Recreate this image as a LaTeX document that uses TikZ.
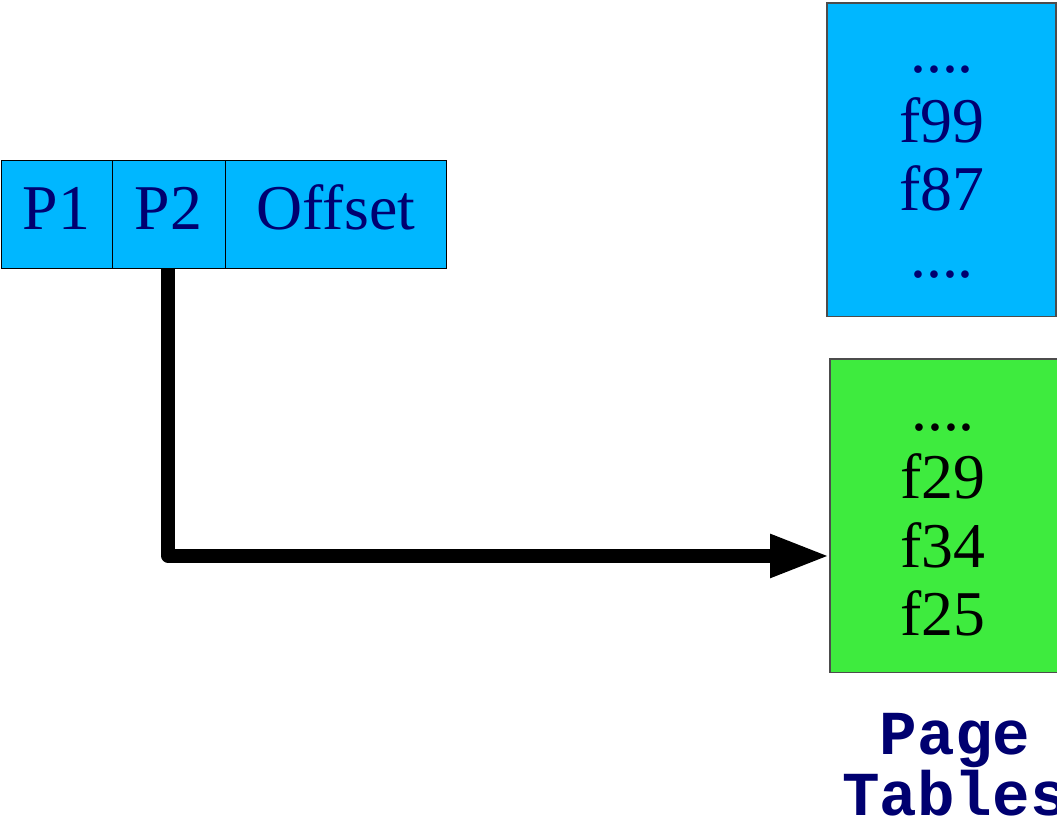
\documentclass[tikz,border=0pt]{standalone}
\usepackage{fontspec}
\setmainfont{Liberation Serif}
\newfontfamily\labelfont{Liberation Mono}
\usetikzlibrary{positioning,arrows.meta}

\definecolor{tableblue}{RGB}{0,183,255}
\definecolor{tablegreen}{RGB}{62,235,62}
\definecolor{entrynavy}{RGB}{0,0,112}
\newcommand{\fourdots}{....}

\begin{document}
\begin{tikzpicture}[x=0.02cm, y=-0.02cm,
    field/.style={draw, line width=0.5pt, fill=tableblue, text=entrynavy,
        minimum height=2.16cm, inner sep=0pt, outer sep=0pt, anchor=north west,
        text height=0.84cm, text depth=0.2cm,
        font=\fontsize{36.3}{38.5}\selectfont},
    ptable/.style={draw=black!70, line width=0.6pt, anchor=north west,
        minimum height=6.28cm, inner sep=0pt, outer sep=0pt},
    entry/.style={anchor=base, inner sep=0pt, font=\fontsize{36.3}{38.5}\selectfont}]
    \useasboundingbox (0,0) rectangle (1057,819);

    % Address split into its three fields
    \node[field, minimum width=2.22cm] (p1) at (1,160) {P1};
    \node[field, minimum width=2.26cm, right=0pt of p1] (p2) {P2};
    \node[field, minimum width=4.44cm, right=0pt of p2] (offset) {Offset};

    % The two second level tables
    \node[ptable, fill=tableblue, minimum width=4.58cm] (upper) at (827,3) {};
    \node[ptable, fill=tablegreen, minimum width=4.8cm] (lower) at (830,359) {};

    % Their entries
    \foreach \e/\yb in {\fourdots/72, f99/142, f87/210, \fourdots/277}
        \node[entry, text=entrynavy] at (942,\yb) {\e};
    \foreach \e/\yb in {\fourdots/430, f29/498, f34/567, f25/635}
        \node[entry, text=black] at (943,\yb) {\e};

    \node[anchor=north, inner sep=0pt, align=center, text=entrynavy,
        font=\labelfont\bfseries\fontsize{35.6}{34.6}\selectfont] (caption) at (955,713)
        {Page\\Tables};

    % P2 selects the entry in the lower table
    \draw[line width=0.28cm, line join=round, -{Triangle[length=1.2cm,width=0.8cm]}]
        (p2.south) |- ([yshift=-0.8cm]lower.west);
\end{tikzpicture}
\end{document}
